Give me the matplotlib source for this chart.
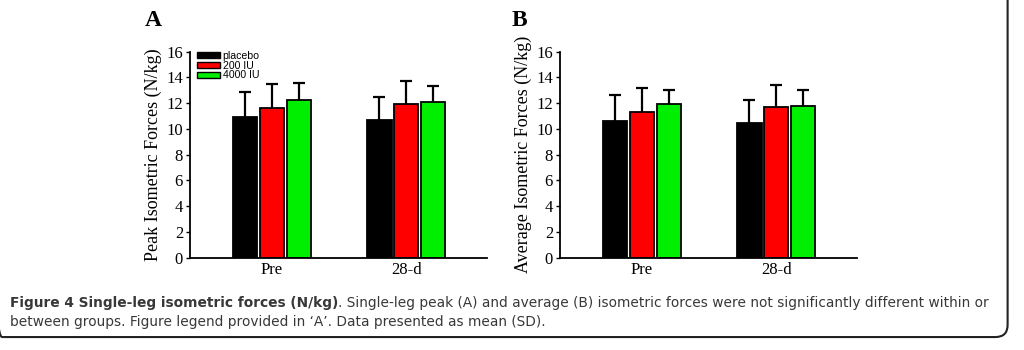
import matplotlib.pyplot as plt
import numpy as np
from matplotlib.patches import FancyBboxPatch, Patch

groups = ["Pre", "28-d"]
series = ["placebo", "200 IU", "4000 IU"]
colors = ["#000000", "#ff0000", "#00ee00"]

# peak isometric forces (panel A): mean and SD (upper bar only)
peak_mean = [[10.9, 10.7], [11.6, 11.9], [12.25, 12.1]]
peak_sd = [[1.95, 1.8], [1.9, 1.85], [1.3, 1.2]]
# average isometric forces (panel B)
avg_mean = [[10.6, 10.45], [11.3, 11.7], [11.9, 11.8]]
avg_sd = [[2.0, 1.8], [1.85, 1.7], [1.15, 1.25]]

serif = "Liberation Serif"

fig = plt.figure(figsize=(10.24, 3.5), dpi=100)

# rounded frame of the figure box
frame = FancyBboxPatch((-0.01, 0.037), 0.994, 1.2, boxstyle="round,pad=0,rounding_size=0.012",
                       transform=fig.transFigure, facecolor="none", edgecolor="#222222",
                       linewidth=1.5, mutation_aspect=1024 / 350, zorder=-1)
fig.patches.append(frame)


def panel(rect, means, sds, ylabel, letter, letter_x, legend=False):
    ax = fig.add_axes(rect)
    x = np.arange(len(groups))
    w = 0.179
    step = 0.2
    for i in range(len(series)):
        pos = x + (i - 1) * step
        m = np.array(means[i])
        top = m + np.array(sds[i])
        ax.bar(pos, m, w, color=colors[i], edgecolor="black", linewidth=1.3,
               label=series[i], zorder=2)
        # upper error bar only
        ax.vlines(pos, m, top, color="black", linewidth=1.6, zorder=1)
        ax.plot(pos, top, linestyle="none", marker="_", markersize=8, markeredgewidth=1.6,
                color="black", zorder=1)
    ax.set_xlim(-0.61, 1.6)
    ax.set_ylim(0, 16)
    ax.set_yticks(range(0, 17, 2))
    ax.set_xticks(x)
    ax.set_xticklabels(groups, fontfamily=serif, fontsize=12)
    for t in ax.get_yticklabels():
        t.set_fontfamily(serif)
        t.set_fontsize(12)
    ax.tick_params(axis="x", length=0, pad=3)
    ax.tick_params(axis="y", length=3, width=1, pad=2)
    ax.spines["top"].set_visible(False)
    ax.spines["right"].set_visible(False)
    ax.spines["left"].set_linewidth(1.3)
    ax.spines["bottom"].set_linewidth(1.3)
    ax.set_ylabel(ylabel, fontfamily=serif, fontsize=13, labelpad=3)
    fig.text(letter_x, 0.94, letter, fontfamily=serif, fontweight="bold", fontsize=17,
             ha="left", va="center")
    if legend:
        handles = [Patch(facecolor=c, edgecolor="black", linewidth=1) for c in colors]
        ax.legend(handles, series, loc="upper left", bbox_to_anchor=(0.0, 1.04), frameon=False,
                  prop={"family": "Liberation Sans", "size": 7.6}, handlelength=2.1,
                  handleheight=0.55, handletextpad=0.3, labelspacing=-0.02, borderaxespad=0.3)
    return ax


panel([190 / 1024, 1 - 257.7 / 350, 297 / 1024, 206 / 350], peak_mean, peak_sd,
      "Peak Isometric Forces (N/kg)", "A", 145 / 1024, legend=True)
panel([560 / 1024, 1 - 257.7 / 350, 297 / 1024, 206 / 350], avg_mean, avg_sd,
      "Average Isometric Forces (N/kg)", "B", 512 / 1024)

cap_font = "DejaVu Sans"
cap_color = "#383838"
cap_size = 9.95
t1 = fig.text(10 / 1024, 1 - 303 / 350, "Figure 4 Single-leg isometric forces (N/kg)",
              fontfamily=cap_font, fontweight="bold", fontsize=cap_size, color=cap_color,
              va="center")
fig.canvas.draw()
bb = t1.get_window_extent()
fig.text(bb.x1 / 1024, 1 - 303 / 350,
         ". Single-leg peak (A) and average (B) isometric forces were not significantly different within or",
         fontfamily=cap_font, fontsize=cap_size, color=cap_color, va="center")
fig.text(10 / 1024, 1 - 322 / 350,
         "between groups. Figure legend provided in \u2018A\u2019. Data presented as mean (SD).",
         fontfamily=cap_font, fontsize=cap_size, color=cap_color, va="center")

fig.savefig("out.png", dpi=100)
